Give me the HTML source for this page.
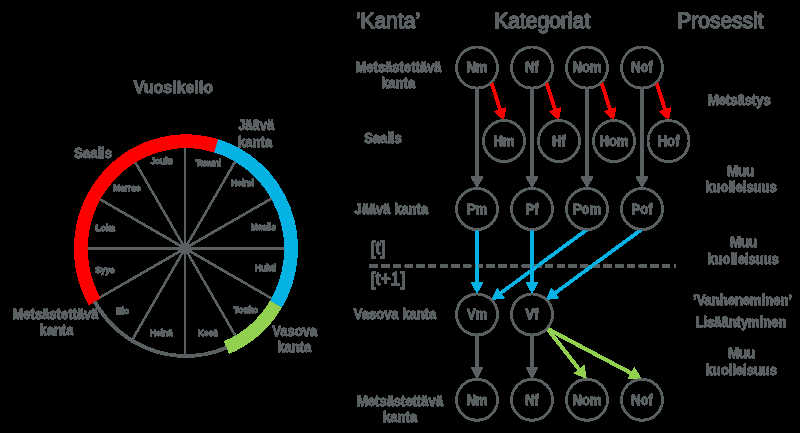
<!DOCTYPE html>
<html><head><meta charset="utf-8"><title>Vuosikello</title>
<style>
html,body{margin:0;padding:0;background:#000;}
body{width:800px;height:433px;overflow:hidden;font-family:"Liberation Sans",sans-serif;}
svg{display:block;}
</style></head>
<body>
<svg width="800" height="433" viewBox="0 0 800 433">
<defs>
<filter id="fat" filterUnits="userSpaceOnUse" x="0" y="0" width="800" height="433" color-interpolation-filters="sRGB">
<feComponentTransfer><feFuncA type="discrete" tableValues="0 1 1 1 1 1 1 1 1 1 1 1 1 1 1 1"/></feComponentTransfer>
</filter>
</defs>
<rect width="800" height="433" fill="#000"/>
<g filter="url(#fat)">
<ellipse cx="186.0" cy="248.6" rx="105.1" ry="107.3" fill="none" stroke="#5a6062" stroke-width="3.2"/>
<line x1="185.0" y1="248.4" x2="185.00" y2="146.81" stroke="#5a6062" stroke-width="1.8"/>
<line x1="185.0" y1="248.4" x2="235.79" y2="160.43" stroke="#5a6062" stroke-width="1.8"/>
<line x1="185.0" y1="248.4" x2="272.39" y2="197.94" stroke="#5a6062" stroke-width="1.8"/>
<line x1="185.0" y1="248.4" x2="285.60" y2="248.40" stroke="#5a6062" stroke-width="1.8"/>
<line x1="185.0" y1="248.4" x2="272.56" y2="298.95" stroke="#5a6062" stroke-width="1.8"/>
<line x1="185.0" y1="248.4" x2="235.96" y2="336.67" stroke="#5a6062" stroke-width="1.8"/>
<line x1="185.0" y1="248.4" x2="185.00" y2="355.90" stroke="#5a6062" stroke-width="1.8"/>
<line x1="185.0" y1="248.4" x2="131.81" y2="340.53" stroke="#5a6062" stroke-width="1.8"/>
<line x1="185.0" y1="248.4" x2="98.96" y2="298.08" stroke="#5a6062" stroke-width="1.8"/>
<line x1="185.0" y1="248.4" x2="86.40" y2="248.40" stroke="#5a6062" stroke-width="1.8"/>
<line x1="185.0" y1="248.4" x2="99.12" y2="198.82" stroke="#5a6062" stroke-width="1.8"/>
<line x1="185.0" y1="248.4" x2="134.73" y2="161.33" stroke="#5a6062" stroke-width="1.8"/>
<path d="M276.02,303.98 A105.1,107.3 0 0 1 226.76,347.50" fill="none" stroke="#92d050" stroke-width="13.0"/>
<path d="M216.07,145.78 A105.1,107.3 0 0 1 276.02,303.98" fill="none" stroke="#05b2e4" stroke-width="13.0"/>
<path d="M94.52,301.42 A105.1,107.3 0 0 1 216.07,145.78" fill="none" stroke="#ff0000" stroke-width="13.0"/>
<g fill="#5a6062" stroke="#5a6062" stroke-width="0.4" stroke-linejoin="round" font-family="Liberation Sans, sans-serif">
<text transform="translate(173.4,93) scale(1,1.0)" font-size="16" font-weight="bold" text-anchor="middle">Vuosikello</text>
<text transform="translate(93.1,158.25) scale(1,1.1)" font-size="13.0" font-weight="bold" text-anchor="middle">Saalis</text>
<text transform="translate(238,130.25) scale(1,1.1)" font-size="13.0" font-weight="bold" text-anchor="start">Jäävä</text>
<text transform="translate(238,146.5) scale(1,1.1)" font-size="13.0" font-weight="bold" text-anchor="start">kanta</text>
<text transform="translate(55.5,319.0) scale(1,1.1)" font-size="13.0" font-weight="bold" text-anchor="middle">Metsästettävä</text>
<text transform="translate(56.4,334.75) scale(1,1.1)" font-size="13.0" font-weight="bold" text-anchor="middle">kanta</text>
<text transform="translate(294.7,335.5) scale(1,1.1)" font-size="13.0" font-weight="bold" text-anchor="middle">Vasova</text>
<text transform="translate(294.3,352.25) scale(1,1.1)" font-size="13.0" font-weight="bold" text-anchor="middle">kanta</text>
<text transform="translate(161.5,163.65) scale(1,1.1)" font-size="8.3" font-weight="bold" text-anchor="middle">Joulu</text>
<text transform="translate(208.2,165.7) scale(1,1.1)" font-size="8.3" font-weight="bold" text-anchor="middle">Tammi</text>
<text transform="translate(242.5,186.45) scale(1,1.1)" font-size="8.3" font-weight="bold" text-anchor="middle">Helmi</text>
<text transform="translate(276,229.85) scale(1,1.1)" font-size="8.3" font-weight="bold" text-anchor="end">Maalis</text>
<text transform="translate(276.3,271.25) scale(1,1.1)" font-size="8.3" font-weight="bold" text-anchor="end">Huhti</text>
<text transform="translate(246,312.75) scale(1,1.1)" font-size="8.3" font-weight="bold" text-anchor="middle">Touko</text>
<text transform="translate(208,335.65) scale(1,1.1)" font-size="8.3" font-weight="bold" text-anchor="middle">Kesä</text>
<text transform="translate(161.25,335.7) scale(1,1.1)" font-size="8.3" font-weight="bold" text-anchor="middle">Heinä</text>
<text transform="translate(122.5,313.95) scale(1,1.1)" font-size="8.3" font-weight="bold" text-anchor="middle">Elo</text>
<text transform="translate(95.3,272.95) scale(1,1.1)" font-size="8.3" font-weight="bold" text-anchor="start">Syys</text>
<text transform="translate(95.6,230.7) scale(1,1.1)" font-size="8.3" font-weight="bold" text-anchor="start">Loka</text>
<text transform="translate(126.9,190.7) scale(1,1.1)" font-size="8.3" font-weight="bold" text-anchor="middle">Marras</text>
<text transform="translate(388.0,27.7) scale(1,1.04)" font-size="21" font-weight="normal" text-anchor="middle" stroke-width="0.8">’Kanta’</text>
<text transform="translate(542.2,27.7) scale(1,1.04)" font-size="21" font-weight="normal" text-anchor="middle" stroke-width="0.8">Kategoriat</text>
<text transform="translate(720.4,27.7) scale(1,1.04)" font-size="21" font-weight="normal" text-anchor="middle" stroke-width="0.8">Prosessit</text>
<text transform="translate(398.5,72.25) scale(1,1.1)" font-size="13.0" font-weight="bold" text-anchor="middle">Metsästettävä</text>
<text transform="translate(398.1,88.25) scale(1,1.1)" font-size="13.0" font-weight="bold" text-anchor="middle">kanta</text>
<text transform="translate(382.9,142.75) scale(1,1.1)" font-size="13.0" font-weight="bold" text-anchor="middle">Saalis</text>
<text transform="translate(391.25,213.75) scale(1,1.1)" font-size="13.0" font-weight="bold" text-anchor="middle">Jäävä kanta</text>
<text transform="translate(370.8,254) scale(1,1.0)" font-size="17.5" font-weight="normal" text-anchor="start" stroke-width="0.7">[t]</text>
<text transform="translate(370.8,284.5) scale(1,1.0)" font-size="17.5" font-weight="normal" text-anchor="start" stroke-width="0.7">[t+1]</text>
<text transform="translate(395,319.25) scale(1,1.1)" font-size="13.0" font-weight="bold" text-anchor="middle">Vasova kanta</text>
<text transform="translate(400,405.75) scale(1,1.1)" font-size="13.0" font-weight="bold" text-anchor="middle">Metsästettävä</text>
<text transform="translate(400,422.25) scale(1,1.1)" font-size="13.0" font-weight="bold" text-anchor="middle">kanta</text>
<text transform="translate(739.4,105.25) scale(1,1.1)" font-size="13.0" font-weight="bold" text-anchor="middle">Metsästys</text>
<text transform="translate(740.6,175.5) scale(1,1.1)" font-size="13.0" font-weight="bold" text-anchor="middle">Muu</text>
<text transform="translate(741,191.5) scale(1,1.1)" font-size="13.0" font-weight="bold" text-anchor="middle">kuolleisuus</text>
<text transform="translate(743.5,247.25) scale(1,1.1)" font-size="13.0" font-weight="bold" text-anchor="middle">Muu</text>
<text transform="translate(743.1,263.5) scale(1,1.1)" font-size="13.0" font-weight="bold" text-anchor="middle">kuolleisuus</text>
<text transform="translate(742.5,305.25) scale(1,1.1)" font-size="13.0" font-weight="bold" text-anchor="middle">’Vanheneminen’</text>
<text transform="translate(740.9,326.5) scale(1,1.1)" font-size="13.0" font-weight="bold" text-anchor="middle">Lisääntyminen</text>
<text transform="translate(741.5,358.25) scale(1,1.1)" font-size="13.0" font-weight="bold" text-anchor="middle">Muu</text>
<text transform="translate(741.25,374.75) scale(1,1.1)" font-size="13.0" font-weight="bold" text-anchor="middle">kuolleisuus</text>
</g>
<line x1="369.8" y1="265.9" x2="675.5" y2="265.9" stroke="#5a6062" stroke-width="3" stroke-dasharray="7.7 4"/>
<line x1="477.00" y1="88.10" x2="477.00" y2="177.70" stroke="#5a6062" stroke-width="2.6"/>
<polygon points="477.00,187.70 470.90,176.70 483.10,176.70" fill="#5a6062"/>
<line x1="532.00" y1="88.10" x2="532.00" y2="177.70" stroke="#5a6062" stroke-width="2.6"/>
<polygon points="532.00,187.70 525.90,176.70 538.10,176.70" fill="#5a6062"/>
<line x1="587.00" y1="88.10" x2="587.00" y2="177.70" stroke="#5a6062" stroke-width="2.6"/>
<polygon points="587.00,187.70 580.90,176.70 593.10,176.70" fill="#5a6062"/>
<line x1="642.00" y1="88.10" x2="642.00" y2="177.70" stroke="#5a6062" stroke-width="2.6"/>
<polygon points="642.00,187.70 635.90,176.70 648.10,176.70" fill="#5a6062"/>
<line x1="477.00" y1="335.00" x2="477.00" y2="368.50" stroke="#5a6062" stroke-width="2.6"/>
<polygon points="477.00,378.50 470.90,367.50 483.10,367.50" fill="#5a6062"/>
<line x1="532.00" y1="335.00" x2="532.00" y2="368.50" stroke="#5a6062" stroke-width="2.6"/>
<polygon points="532.00,378.50 525.90,367.50 538.10,367.50" fill="#5a6062"/>
<line x1="491.30" y1="82.60" x2="500.45" y2="110.57" stroke="#ff0000" stroke-width="3.0"/>
<polygon points="503.40,119.60 494.15,111.58 506.12,107.66" fill="#ff0000"/>
<line x1="546.30" y1="82.60" x2="555.45" y2="110.57" stroke="#ff0000" stroke-width="3.0"/>
<polygon points="558.40,119.60 549.15,111.58 561.12,107.66" fill="#ff0000"/>
<line x1="601.30" y1="82.60" x2="610.45" y2="110.57" stroke="#ff0000" stroke-width="3.0"/>
<polygon points="613.40,119.60 604.15,111.58 616.12,107.66" fill="#ff0000"/>
<line x1="656.30" y1="82.60" x2="665.45" y2="110.57" stroke="#ff0000" stroke-width="3.0"/>
<polygon points="668.40,119.60 659.15,111.58 671.12,107.66" fill="#ff0000"/>
<line x1="477.00" y1="229.50" x2="477.00" y2="283.20" stroke="#05b2e4" stroke-width="2.8"/>
<polygon points="477.00,293.20 470.90,282.20 483.10,282.20" fill="#05b2e4"/>
<line x1="532.00" y1="229.50" x2="532.00" y2="283.20" stroke="#05b2e4" stroke-width="2.8"/>
<polygon points="532.00,293.20 525.90,282.20 538.10,282.20" fill="#05b2e4"/>
<line x1="587.00" y1="229.50" x2="499.95" y2="293.67" stroke="#05b2e4" stroke-width="2.8"/>
<polygon points="491.90,299.60 497.14,288.16 504.37,297.98" fill="#05b2e4"/>
<line x1="641.50" y1="229.50" x2="554.30" y2="293.67" stroke="#05b2e4" stroke-width="2.8"/>
<polygon points="546.25,299.60 551.49,288.17 558.73,297.99" fill="#05b2e4"/>
<line x1="547.50" y1="328.75" x2="579.80" y2="370.22" stroke="#92d050" stroke-width="3.2"/>
<polygon points="586.25,378.50 574.21,373.30 584.15,365.56" fill="#92d050"/>
<line x1="547.50" y1="328.75" x2="631.98" y2="373.58" stroke="#92d050" stroke-width="3.2"/>
<polygon points="641.25,378.50 628.14,378.67 634.04,367.54" fill="#92d050"/>
<circle cx="477" cy="67.6" r="20.5" fill="none" stroke="#5a6062" stroke-width="2.0"/>
<text transform="translate(477,72.39999999999999) scale(1,1.1)" font-size="13" font-weight="bold" text-anchor="middle" fill="#5a6062" stroke="#5a6062" stroke-width="0.4" font-family="Liberation Sans, sans-serif">Nm</text>
<circle cx="532" cy="67.6" r="20.5" fill="none" stroke="#5a6062" stroke-width="2.0"/>
<text transform="translate(532,72.39999999999999) scale(1,1.1)" font-size="13" font-weight="bold" text-anchor="middle" fill="#5a6062" stroke="#5a6062" stroke-width="0.4" font-family="Liberation Sans, sans-serif">Nf</text>
<circle cx="587" cy="67.6" r="20.5" fill="none" stroke="#5a6062" stroke-width="2.0"/>
<text transform="translate(587,72.39999999999999) scale(1,1.1)" font-size="13" font-weight="bold" text-anchor="middle" fill="#5a6062" stroke="#5a6062" stroke-width="0.4" font-family="Liberation Sans, sans-serif">Nom</text>
<circle cx="642" cy="67.6" r="20.5" fill="none" stroke="#5a6062" stroke-width="2.0"/>
<text transform="translate(642,72.39999999999999) scale(1,1.1)" font-size="13" font-weight="bold" text-anchor="middle" fill="#5a6062" stroke="#5a6062" stroke-width="0.4" font-family="Liberation Sans, sans-serif">Nof</text>
<circle cx="504" cy="141" r="20.5" fill="none" stroke="#5a6062" stroke-width="2.0"/>
<text transform="translate(504,145.8) scale(1,1.1)" font-size="13" font-weight="bold" text-anchor="middle" fill="#5a6062" stroke="#5a6062" stroke-width="0.4" font-family="Liberation Sans, sans-serif">Hm</text>
<circle cx="559" cy="141" r="20.5" fill="none" stroke="#5a6062" stroke-width="2.0"/>
<text transform="translate(559,145.8) scale(1,1.1)" font-size="13" font-weight="bold" text-anchor="middle" fill="#5a6062" stroke="#5a6062" stroke-width="0.4" font-family="Liberation Sans, sans-serif">Hf</text>
<circle cx="614" cy="141" r="20.5" fill="none" stroke="#5a6062" stroke-width="2.0"/>
<text transform="translate(614,145.8) scale(1,1.1)" font-size="13" font-weight="bold" text-anchor="middle" fill="#5a6062" stroke="#5a6062" stroke-width="0.4" font-family="Liberation Sans, sans-serif">Hom</text>
<circle cx="668.5" cy="141" r="20.5" fill="none" stroke="#5a6062" stroke-width="2.0"/>
<text transform="translate(668.5,145.8) scale(1,1.1)" font-size="13" font-weight="bold" text-anchor="middle" fill="#5a6062" stroke="#5a6062" stroke-width="0.4" font-family="Liberation Sans, sans-serif">Hof</text>
<circle cx="477" cy="209" r="20.5" fill="none" stroke="#5a6062" stroke-width="2.0"/>
<text transform="translate(477,213.8) scale(1,1.1)" font-size="13" font-weight="bold" text-anchor="middle" fill="#5a6062" stroke="#5a6062" stroke-width="0.4" font-family="Liberation Sans, sans-serif">Pm</text>
<circle cx="532" cy="209" r="20.5" fill="none" stroke="#5a6062" stroke-width="2.0"/>
<text transform="translate(532,213.8) scale(1,1.1)" font-size="13" font-weight="bold" text-anchor="middle" fill="#5a6062" stroke="#5a6062" stroke-width="0.4" font-family="Liberation Sans, sans-serif">Pf</text>
<circle cx="587" cy="209" r="20.5" fill="none" stroke="#5a6062" stroke-width="2.0"/>
<text transform="translate(587,213.8) scale(1,1.1)" font-size="13" font-weight="bold" text-anchor="middle" fill="#5a6062" stroke="#5a6062" stroke-width="0.4" font-family="Liberation Sans, sans-serif">Pom</text>
<circle cx="642" cy="209" r="20.5" fill="none" stroke="#5a6062" stroke-width="2.0"/>
<text transform="translate(642,213.8) scale(1,1.1)" font-size="13" font-weight="bold" text-anchor="middle" fill="#5a6062" stroke="#5a6062" stroke-width="0.4" font-family="Liberation Sans, sans-serif">Pof</text>
<circle cx="477" cy="314.5" r="20.5" fill="none" stroke="#5a6062" stroke-width="2.0"/>
<text transform="translate(477,319.3) scale(1,1.1)" font-size="13" font-weight="bold" text-anchor="middle" fill="#5a6062" stroke="#5a6062" stroke-width="0.4" font-family="Liberation Sans, sans-serif">Vm</text>
<circle cx="532" cy="314.5" r="20.5" fill="none" stroke="#5a6062" stroke-width="2.0"/>
<text transform="translate(532,319.3) scale(1,1.1)" font-size="13" font-weight="bold" text-anchor="middle" fill="#5a6062" stroke="#5a6062" stroke-width="0.4" font-family="Liberation Sans, sans-serif">Vf</text>
<circle cx="477" cy="399.8" r="20.5" fill="none" stroke="#5a6062" stroke-width="2.0"/>
<text transform="translate(477,404.6) scale(1,1.1)" font-size="13" font-weight="bold" text-anchor="middle" fill="#5a6062" stroke="#5a6062" stroke-width="0.4" font-family="Liberation Sans, sans-serif">Nm</text>
<circle cx="532" cy="399.8" r="20.5" fill="none" stroke="#5a6062" stroke-width="2.0"/>
<text transform="translate(532,404.6) scale(1,1.1)" font-size="13" font-weight="bold" text-anchor="middle" fill="#5a6062" stroke="#5a6062" stroke-width="0.4" font-family="Liberation Sans, sans-serif">Nf</text>
<circle cx="587" cy="399.8" r="20.5" fill="none" stroke="#5a6062" stroke-width="2.0"/>
<text transform="translate(587,404.6) scale(1,1.1)" font-size="13" font-weight="bold" text-anchor="middle" fill="#5a6062" stroke="#5a6062" stroke-width="0.4" font-family="Liberation Sans, sans-serif">Nom</text>
<circle cx="642" cy="399.8" r="20.5" fill="none" stroke="#5a6062" stroke-width="2.0"/>
<text transform="translate(642,404.6) scale(1,1.1)" font-size="13" font-weight="bold" text-anchor="middle" fill="#5a6062" stroke="#5a6062" stroke-width="0.4" font-family="Liberation Sans, sans-serif">Nof</text>
</g>
</svg>
</body></html>
